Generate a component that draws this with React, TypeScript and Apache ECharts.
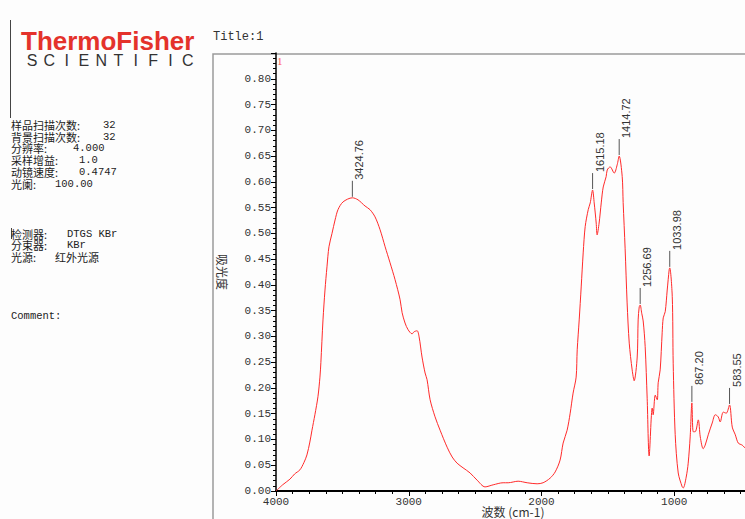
import React, { useEffect, useRef } from "react";
import * as echarts from "echarts";

// Spectrum (wavenumber in cm-1, absorbance)
const wavenumbers = [
  4000, 3950, 3895, 3860, 3820, 3790, 3767, 3745, 3729, 3707, 3684, 3669, 3662, 3646, 3631, 3616, 3601,
  3578, 3555, 3533, 3495, 3424.76, 3382, 3329, 3292, 3254, 3216, 3178, 3141, 3103, 3065, 3050, 3028, 3005,
  2975, 2960, 2937, 2922, 2900, 2877, 2862, 2839, 2802, 2764, 2711, 2673, 2636, 2591, 2538, 2485, 2425,
  2364, 2289, 2251, 2176, 2108, 2033, 1988, 1935, 1897, 1860, 1837, 1807, 1784, 1762, 1739, 1731, 1716,
  1701, 1686, 1671, 1648, 1633, 1615.18, 1603, 1588, 1581, 1566, 1550, 1535, 1513, 1505, 1483, 1452, 1430,
  1414.72, 1392, 1385, 1370, 1355, 1339, 1317, 1302, 1279, 1272, 1264, 1256.69, 1245, 1234, 1219, 1204,
  1189, 1166, 1159, 1143, 1128, 1121, 1106, 1091, 1083, 1068, 1053, 1038, 1033.98, 1015, 1008, 993, 970,
  940, 932, 910, 895, 880, 867.2, 857, 842, 819, 804, 782, 767, 744, 714, 691, 669, 654, 631, 608, 583.55,
  563, 540, 518, 488, 465,
];
const absorbance = [
  0.0, 0.012, 0.023, 0.033, 0.041, 0.055, 0.07, 0.095, 0.118, 0.148, 0.183, 0.221, 0.249, 0.332, 0.39, 0.435, 0.474,
  0.5, 0.526, 0.546, 0.561, 0.569, 0.565, 0.553, 0.546, 0.532, 0.507, 0.474, 0.443, 0.41, 0.371, 0.346, 0.326, 0.313,
  0.305, 0.309, 0.311, 0.299, 0.26, 0.229, 0.216, 0.177, 0.144, 0.118, 0.085, 0.066, 0.054, 0.045, 0.035, 0.021, 0.008,
  0.012, 0.016, 0.016, 0.019, 0.016, 0.014, 0.016, 0.025, 0.037, 0.06, 0.093, 0.118, 0.151, 0.19, 0.221, 0.274, 0.332,
  0.396, 0.462, 0.513, 0.546, 0.559, 0.584, 0.559, 0.52, 0.497, 0.52, 0.559, 0.59, 0.61, 0.623, 0.629, 0.617, 0.633,
  0.65, 0.61, 0.56, 0.47, 0.365, 0.287, 0.235, 0.214, 0.26, 0.332, 0.357, 0.361, 0.345, 0.33, 0.28, 0.18,
  0.068, 0.161, 0.148, 0.186, 0.177, 0.21, 0.235, 0.307, 0.336, 0.348, 0.39, 0.43, 0.433, 0.377, 0.248, 0.11, 0.035,
  0.008, 0.006, 0.027, 0.054, 0.105, 0.171, 0.115, 0.115, 0.138, 0.105, 0.082, 0.089, 0.109, 0.132, 0.148, 0.144, 0.134, 0.153, 0.151, 0.167,
  0.124, 0.109, 0.093, 0.089, 0.083,
];

// Marked peaks
const peakWavenumbers = [3424.76, 1615.18, 1414.72, 1256.69, 1033.98, 867.2, 583.55];
const peakAbsorbance = [0.569, 0.584, 0.65, 0.361, 0.433, 0.171, 0.167];
const peakLabels = ["3424.76", "1615.18", "1414.72", "1256.69", "1033.98", "867.20", "583.55"];

// Instrument info
const infoLabels = ["样品扫描次数:", "背景扫描次数:", "分辨率:", "采样增益:", "动镜速度:", "光阑:"];
const infoValues = ["32", "32", "4.000", "1.0", "0.4747", "100.00"];
const hwLabels = ["检测器:", "分束器:", "光源:"];
const hwValues = ["DTGS KBr", "KBr", "红外光源"];
const logoLetters = ["S", "C", "I", "E", "N", "T", "I", "F", "I", "C"];

const MONO = "'Liberation Mono', 'DejaVu Sans Mono', monospace";
const CJK = "'Noto Sans CJK SC', sans-serif";

export default function App() {
  const ref = useRef<HTMLDivElement>(null);

  useEffect(() => {
    if (!ref.current) return;
    const chart = echarts.init(ref.current, undefined, { renderer: "svg" });

    const infoValueX = [103, 103, 73, 79, 79, 55];
    const hwValueX = [67, 67, 55];

    const graphics: any[] = [];
    graphics.push({
      type: "line",
      shape: { x1: 10.5, y1: 20, x2: 10.5, y2: 118 },
      style: { stroke: "#444", lineWidth: 1 },
    });
    graphics.push({
      type: "line",
      shape: { x1: 11.5, y1: 228, x2: 11.5, y2: 239 },
      style: { stroke: "#444", lineWidth: 1 },
    });
    graphics.push({
      type: "text",
      x: 21,
      y: 41,
      style: {
        text: "ThermoFisher",
        fill: "#e4322b",
        fontFamily: "'Liberation Sans', Arial, sans-serif",
        fontWeight: "bold",
        fontSize: 26,
        textAlign: "left",
        textVerticalAlign: "middle",
      },
    });
    logoLetters.forEach((ch, i) => {
      graphics.push({
        type: "text",
        x: 32 + i * 17.3,
        y: 60,
        style: {
          text: ch,
          fill: "#333",
          fontFamily: "'Liberation Sans', Arial, sans-serif",
          fontSize: 16,
          textAlign: "center",
          textVerticalAlign: "middle",
        },
      });
    });
    graphics.push({
      type: "text",
      x: 213,
      y: 37,
      style: { text: "Title:1", fill: "#333", fontFamily: MONO, fontSize: 12, textAlign: "left", textVerticalAlign: "middle" },
    });
    graphics.push({
      type: "rect",
      shape: { x: 213, y: 54, width: 700, height: 600 },
      style: { fill: "none", stroke: "#9a9a9a", lineWidth: 1.5 },
      z: -1,
    });
    graphics.push({
      type: "text",
      x: 277,
      y: 61,
      style: { text: "1", fill: "#ff5a5a", fontFamily: "'Liberation Serif', serif", fontSize: 11, textAlign: "left", textVerticalAlign: "middle" },
    });
    infoLabels.forEach((lab, i) => {
      const y = 125 + i * 11.7;
      graphics.push({
        type: "text",
        x: 11,
        y,
        style: { text: lab, fill: "#222", fontFamily: CJK, fontSize: 11, lineHeight: 11, textAlign: "left", textVerticalAlign: "middle" },
      });
      graphics.push({
        type: "text",
        x: infoValueX[i],
        y,
        style: { text: infoValues[i], fill: "#222", fontFamily: MONO, fontSize: 10.5, lineHeight: 11, textAlign: "left", textVerticalAlign: "middle" },
      });
    });
    hwLabels.forEach((lab, i) => {
      const y = 234 + i * 11.3;
      graphics.push({
        type: "text",
        x: 11,
        y,
        style: { text: lab, fill: "#222", fontFamily: CJK, fontSize: 11, lineHeight: 11, textAlign: "left", textVerticalAlign: "middle" },
      });
      graphics.push({
        type: "text",
        x: hwValueX[i],
        y,
        style: {
          text: hwValues[i],
          fill: "#222",
          fontFamily: i === 2 ? CJK : MONO,
          fontSize: i === 2 ? 11 : 10.5,
          lineHeight: 11,
          textAlign: "left",
          textVerticalAlign: "middle",
        },
      });
    });
    graphics.push({
      type: "text",
      x: 11,
      y: 316,
      style: { text: "Comment:", fill: "#222", fontFamily: MONO, fontSize: 10.5, textAlign: "left", textVerticalAlign: "middle" },
    });
    graphics.push({
      type: "text",
      x: 222,
      y: 272,
      rotation: -Math.PI / 2,
      style: { text: "吸光度", fill: "#333", fontFamily: CJK, fontSize: 12, textAlign: "center", textVerticalAlign: "middle" },
    });
    graphics.push({
      type: "text",
      x: 513,
      y: 511,
      style: {
        text: "波数 (cm-1)",
        fill: "#333",
        fontFamily: CJK + ", " + MONO,
        fontSize: 12,
        lineHeight: 12,
        textAlign: "center",
        textVerticalAlign: "middle",
      },
    });

    const option: any = {
      animation: false,
      backgroundColor: "#fdfdfd",
      grid: { left: 276, top: 53, right: 13, bottom: 28, containLabel: false },
      xAxis: {
        type: "value",
        min: 0,
        max: 4000,
        interval: 1000,
        inverse: true,
        axisLine: { show: true, onZero: false, lineStyle: { color: "#000", width: 2 } },
        axisTick: { show: true, length: 5, lineStyle: { color: "#000", width: 1 } },
        minorTick: { show: true, splitNumber: 8, length: 3, lineStyle: { color: "#000", width: 1 } },
        splitLine: { show: false },
        axisLabel: {
          showMinLabel: false,
          color: "#333",
          fontFamily: MONO,
          fontSize: 11,
          lineHeight: 10,
          margin: 6,
          formatter: (v: number) => String(v),
        },
      },
      yAxis: {
        type: "value",
        min: 0,
        max: 0.85,
        interval: 0.05,
        axisLine: { show: true, onZero: false, lineStyle: { color: "#000", width: 1.5 } },
        axisTick: { show: true, length: 5, lineStyle: { color: "#000", width: 1 } },
        minorTick: { show: true, splitNumber: 5, length: 3, lineStyle: { color: "#000", width: 1 } },
        splitLine: { show: false },
        axisLabel: {
          showMaxLabel: false,
          color: "#333",
          fontFamily: MONO,
          fontSize: 11,
          margin: 5,
          formatter: (v: number) => v.toFixed(2),
        },
      },
      graphic: graphics,
      series: [
        {
          type: "line",
          data: wavenumbers.map((w, i) => [w, absorbance[i]]),
          showSymbol: false,
          smooth: 0.3,
          lineStyle: { color: "#ff2a2a", width: 1 },
          z: 2,
        },
        {
          type: "custom",
          data: peakWavenumbers.map((w, i) => [w, peakAbsorbance[i], i]),
          clip: false,
          z: 3,
          renderItem: (params: any, api: any) => {
            const p = api.coord([api.value(0), api.value(1)]);
            const idx = api.value(2);
            return {
              type: "group",
              children: [
                {
                  type: "line",
                  shape: { x1: p[0], y1: p[1] - 1, x2: p[0], y2: p[1] - 17 },
                  style: { stroke: "#555", lineWidth: 1 },
                },
                {
                  type: "text",
                  x: p[0] + 7,
                  y: p[1] - 18,
                  rotation: Math.PI / 2,
                  style: {
                    text: peakLabels[idx],
                    fill: "#333",
                    fontFamily: "'Liberation Sans', Arial, sans-serif",
                    fontSize: 11,
                    textAlign: "left",
                    textVerticalAlign: "middle",
                  },
                },
              ],
            };
          },
        },
      ],
    };

    chart.setOption(option);
    return () => chart.dispose();
  }, []);

  return (
    <div style={{ position: "absolute", left: 0, top: 0, width: 745, height: 519, overflow: "hidden", background: "#fdfdfd" }}>
      <div ref={ref} style={{ position: "absolute", left: 0, top: 0, width: 820, height: 519 }} />
    </div>
  );
}
